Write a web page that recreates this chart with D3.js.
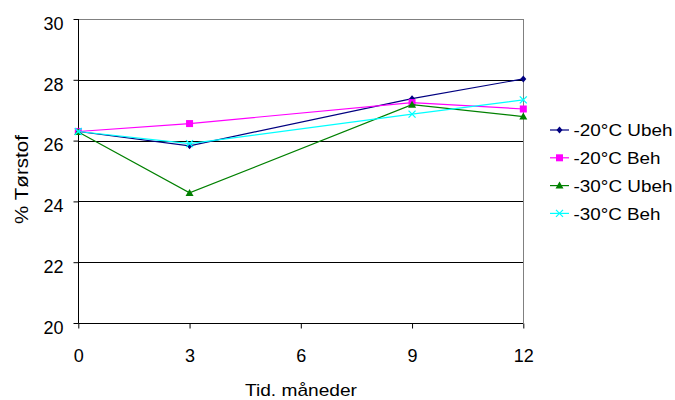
<!DOCTYPE html>
<html>
<head>
<meta charset="utf-8">
<script src="https://cdn.jsdelivr.net/npm/d3@7"></script>
<style>
  body { margin: 0; background: #fff; }
  svg { display: block; font-family: "Liberation Sans", Arial, sans-serif; }
</style>
</head>
<body>
<svg id="chart" width="675" height="400"></svg>
<script>
// Months of storage
const months = [0, 3, 9, 12];
const xTicks = [0, 3, 6, 9, 12];
const yTicks = [20, 22, 24, 26, 28, 30];

// Dry matter (%) per storage condition
const seriesNames = ["-20°C Ubeh", "-20°C Beh", "-30°C Ubeh", "-30°C Beh"];
const ubeh20 = [26.30, 25.83, 27.38, 28.03];
const beh20 = [26.30, 26.56, 27.25, 27.04];
const ubeh30 = [26.28, 24.28, 27.18, 26.79];
const beh30 = [26.30, 25.90, 26.87, 27.34];
const seriesColors = ["#000080", "#FF00FF", "#008000", "#00FFFF"];
const seriesSymbols = ["diamond", "square", "triangle", "cross"];

const allValues = [ubeh20, beh20, ubeh30, beh30];

const FS = 18;
const svg = d3.select("#chart");
const margin = { left: 78.3, right: 675 - 523.3, top: 19, bottom: 400 - 323 };
const W = 675, H = 400;

const x = d3.scaleLinear().domain([0, 12]).range([margin.left, W - margin.right]);
const y = d3.scaleLinear().domain([20, 30]).range([H - margin.bottom, margin.top]);

// Horizontal gridlines
svg.append("g").selectAll("line")
  .data(yTicks.filter(d => d > 20 && d < 30))
  .join("line")
  .attr("x1", x(0)).attr("x2", x(12))
  .attr("y1", d => Math.round(y(d)) + 0.5).attr("y2", d => Math.round(y(d)) + 0.5)
  .attr("stroke", "#000").attr("stroke-width", 1);

// Plot area frame (top/right in grey)
svg.append("line")
  .attr("x1", x(0)).attr("x2", x(12))
  .attr("y1", Math.round(y(30)) + 0.5).attr("y2", Math.round(y(30)) + 0.5)
  .attr("stroke", "#808080");
svg.append("line")
  .attr("x1", Math.round(x(12)) + 0.5).attr("x2", Math.round(x(12)) + 0.5)
  .attr("y1", y(30)).attr("y2", y(20))
  .attr("stroke", "#808080");

// Y axis
const yAxis = d3.axisLeft(y).tickValues(yTicks).tickSize(5).tickPadding(10).tickFormat(d3.format("d"));
const gy = svg.append("g")
  .attr("transform", `translate(${Math.round(x(0)) + 0.5},0)`)
  .call(yAxis);
gy.selectAll("text").attr("font-size", FS).attr("fill", "#000")
  .attr("font-family", "Liberation Sans, Arial, sans-serif").attr("dy", "0.57em");
gy.selectAll("line, path").attr("stroke", "#000");
gy.select(".domain").attr("d", `M0,${y(30)}V${y(20)}`);

// X axis
const xAxis = d3.axisBottom(x).tickValues(xTicks).tickSize(5).tickPadding(21).tickFormat(d3.format("d"));
const gx = svg.append("g")
  .attr("transform", `translate(0,${Math.round(y(20)) + 0.5})`)
  .call(xAxis);
gx.selectAll("text").attr("font-size", FS).attr("fill", "#000").attr("font-family", "Liberation Sans, Arial, sans-serif");
gx.selectAll("line, path").attr("stroke", "#000");
gx.select(".domain").attr("d", `M${x(0)},0H${x(12)}`);

// Axis titles
svg.append("text")
  .attr("x", 245).attr("y", 396)
  .attr("font-size", 17)
  .attr("textLength", 112).attr("lengthAdjust", "spacingAndGlyphs")
  .text("Tid. måneder");
svg.append("text")
  .attr("transform", `translate(28,224) rotate(-90)`)
  .attr("font-size", 18)
  .attr("textLength", 89).attr("lengthAdjust", "spacingAndGlyphs")
  .text("% Tørstof");

// Marker drawing
function drawMarker(g, kind, color, cx, cy) {
  if (kind === "diamond") {
    g.append("path").attr("d", `M${cx},${cy - 3.5}L${cx + 3},${cy}L${cx},${cy + 3.5}L${cx - 3},${cy}Z`).attr("fill", color);
  } else if (kind === "square") {
    g.append("rect").attr("x", cx - 3.5).attr("y", cy - 3.5).attr("width", 7).attr("height", 7).attr("fill", color);
  } else if (kind === "triangle") {
    g.append("path").attr("d", `M${cx},${cy - 4}L${cx + 4},${cy + 3}L${cx - 4},${cy + 3}Z`).attr("fill", color);
  } else {
    g.append("path").attr("d", `M${cx - 3.5},${cy - 3.5}L${cx + 3.5},${cy + 3.5}M${cx + 3.5},${cy - 3.5}L${cx - 3.5},${cy + 3.5}`)
      .attr("stroke", color).attr("stroke-width", 1.3).attr("fill", "none");
  }
}

const line = d3.line().x(d => x(d[0])).y(d => y(d[1]));

allValues.forEach((vals, i) => {
  const pts = months.map((m, j) => [m, vals[j]]);
  const g = svg.append("g");
  g.append("path").attr("d", line(pts))
    .attr("fill", "none").attr("stroke", seriesColors[i]).attr("stroke-width", 1.2);
  pts.forEach(p => drawMarker(g, seriesSymbols[i], seriesColors[i], x(p[0]), y(p[1])));
});

// Legend
const legendWidths = [99, 87, 99, 87];
const legend = svg.append("g");
seriesNames.forEach((name, i) => {
  const ly = 130 + i * 27.8;
  legend.append("line").attr("x1", 550).attr("x2", 569).attr("y1", ly).attr("y2", ly)
    .attr("stroke", seriesColors[i]).attr("stroke-width", 1.2);
  drawMarker(legend, seriesSymbols[i], seriesColors[i], 559.5, ly);
  legend.append("text").attr("x", 573.5).attr("y", ly + 6.2).attr("font-size", 17)
    .attr("textLength", legendWidths[i]).attr("lengthAdjust", "spacingAndGlyphs")
    .text(name);
});
</script>
</body>
</html>
